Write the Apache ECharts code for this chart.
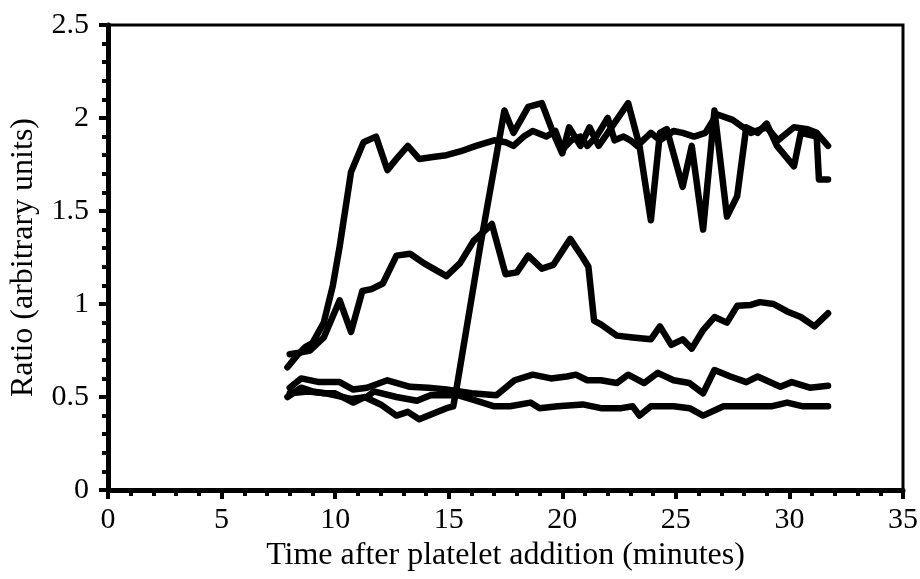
<!DOCTYPE html>
<html><head><meta charset="utf-8">
<script src="https://cdn.jsdelivr.net/npm/echarts@6/dist/echarts.min.js"></script>
<style>html,body{margin:0;padding:0;background:#fff}#c{width:920px;height:579px}</style>
</head><body><div id="c"></div>
<script>
// Series A: early riser (~1.9 plateau)
var aTime = [7.9, 8.3, 8.7, 9.0, 9.5, 9.9, 10.2, 10.7, 11.25, 11.8, 12.3, 12.7, 13.2, 13.7, 14.3, 14.9, 15.5, 16.2, 17.0, 17.5, 17.85, 18.3, 18.7, 19.3, 19.7, 20.0, 20.4, 20.8, 21.1, 21.5, 22.0, 22.3, 22.7, 23.0, 23.3, 23.9, 24.3, 24.9, 25.3, 25.8, 26.3, 26.8, 27.5, 28.3, 29.0, 29.5, 30.2, 30.8, 31.2, 31.7];
var aRatio = [0.66, 0.72, 0.77, 0.79, 0.9, 1.1, 1.31, 1.71, 1.87, 1.9, 1.72, 1.78, 1.85, 1.78, 1.79, 1.80, 1.82, 1.85, 1.88, 1.87, 1.85, 1.9, 1.93, 1.9, 1.93, 1.83, 1.88, 1.9, 1.85, 1.9, 2.0, 1.88, 1.9, 1.88, 1.85, 1.92, 1.88, 1.93, 1.92, 1.9, 1.92, 2.02, 1.99, 1.92, 1.95, 1.88, 1.95, 1.94, 1.92, 1.85];
// Series B: intermediate
var bTime = [8.0, 8.5, 8.9, 9.5, 10.2, 10.7, 11.2, 11.6, 12.1, 12.7, 13.3, 13.9, 14.9, 15.5, 16.1, 16.9, 17.5, 18.0, 18.5, 19.1, 19.6, 20.35, 20.9, 21.15, 21.4, 21.7, 22.4, 23.1, 23.9, 24.3, 24.8, 25.3, 25.7, 26.2, 26.7, 27.25, 27.7, 28.3, 28.7, 29.3, 29.9, 30.5, 31.1, 31.7];
var bRatio = [0.73, 0.74, 0.75, 0.82, 1.02, 0.85, 1.07, 1.08, 1.11, 1.26, 1.27, 1.22, 1.15, 1.22, 1.34, 1.43, 1.16, 1.17, 1.26, 1.19, 1.21, 1.35, 1.25, 1.2, 0.91, 0.89, 0.83, 0.82, 0.81, 0.88, 0.78, 0.81, 0.76, 0.86, 0.93, 0.90, 0.99, 0.995, 1.01, 1.0, 0.96, 0.93, 0.88, 0.95];
// Series C: low, ~0.6
var cTime = [8.0, 8.5, 9.3, 10.2, 10.8, 11.4, 12.3, 13.3, 14.1, 14.9, 16.0, 17.1, 17.9, 18.7, 19.5, 20.2, 20.6, 21.1, 21.7, 22.4, 22.9, 23.6, 24.2, 24.9, 25.6, 26.2, 26.7, 27.4, 28.1, 28.6, 29.6, 30.1, 30.9, 31.7];
var cRatio = [0.55, 0.6, 0.58, 0.58, 0.54, 0.55, 0.59, 0.555, 0.55, 0.54, 0.52, 0.51, 0.59, 0.62, 0.6, 0.61, 0.62, 0.59, 0.59, 0.575, 0.62, 0.575, 0.63, 0.59, 0.575, 0.52, 0.645, 0.61, 0.58, 0.61, 0.555, 0.58, 0.55, 0.56];
// Series D: lowest, ~0.45
var dTime = [8.0, 8.8, 9.6, 10.7, 11.4, 11.7, 12.7, 13.6, 14.2, 15.4, 16.2, 17.0, 17.7, 18.6, 19.0, 19.8, 20.9, 21.7, 22.6, 23.1, 23.4, 23.9, 24.9, 25.6, 26.2, 27.1, 28.0, 29.2, 29.9, 30.6, 31.7];
var dRatio = [0.52, 0.53, 0.52, 0.49, 0.50, 0.53, 0.50, 0.48, 0.51, 0.51, 0.48, 0.45, 0.45, 0.47, 0.44, 0.45, 0.46, 0.44, 0.44, 0.45, 0.40, 0.45, 0.45, 0.44, 0.40, 0.45, 0.45, 0.45, 0.47, 0.45, 0.45];
// Series E: late riser (~15 min), noisy plateau
var eTime = [7.9, 8.5, 9.0, 9.5, 10.0, 10.8, 11.3, 12.0, 12.7, 13.2, 13.7, 14.3, 14.9, 15.2, 15.35, 16.4, 17.45, 17.85, 18.5, 19.1, 19.6, 20.0, 20.3, 20.8, 21.2, 21.6, 22.0, 22.9, 23.4, 23.9, 24.3, 24.6, 25.3, 25.7, 26.2, 26.7, 27.25, 27.7, 28.1, 28.6, 29.0, 29.45, 30.2, 30.5, 31.2, 31.3, 31.7];
var eRatio = [0.5, 0.55, 0.53, 0.52, 0.52, 0.47, 0.5, 0.46, 0.40, 0.42, 0.38, 0.41, 0.44, 0.45, 0.55, 1.32, 2.04, 1.92, 2.06, 2.08, 1.92, 1.81, 1.95, 1.85, 1.95, 1.85, 1.92, 2.08, 1.85, 1.45, 1.92, 1.94, 1.63, 1.85, 1.40, 2.04, 1.47, 1.58, 1.95, 1.92, 1.97, 1.85, 1.74, 1.92, 1.9, 1.67, 1.67];

var xTicks = [0, 5, 10, 15, 20, 25, 30, 35];
var yTicks = [0, 0.5, 1, 1.5, 2, 2.5];

function pairs(t, v) { return t.map(function (x, i) { return [x, v[i]]; }); }
var seriesList = [[aTime, aRatio], [bTime, bRatio], [cTime, cRatio], [dTime, dRatio], [eTime, eRatio]];

var font = 'Liberation Serif';
var chart = echarts.init(document.getElementById('c'), null, { renderer: 'canvas' });
chart.setOption({
  animation: false,
  backgroundColor: '#fff',
  grid: { left: 108, right: 17, top: 25, bottom: 89, containLabel: false, outerBoundsMode: 'none',
    show: true, borderColor: '#000', borderWidth: 3, backgroundColor: 'transparent' },
  xAxis: {
    type: 'value', min: xTicks[0], max: xTicks[xTicks.length - 1], interval: 5,
    name: 'Time after platelet addition (minutes)', nameLocation: 'middle', nameGap: 46,
    nameTextStyle: { fontFamily: font, fontSize: 32, color: '#000' },
    axisLine: { show: true, onZero: false, lineStyle: { color: '#000', width: 5 } },
    axisTick: { show: true, inside: false, length: 9, lineStyle: { color: '#000', width: 4 } },
    minorTick: { show: true, splitNumber: 5, length: 6, lineStyle: { color: '#000', width: 4 } },
    splitLine: { show: false },
    axisLabel: { fontFamily: font, fontSize: 30, color: '#000', margin: 15 }
  },
  yAxis: {
    type: 'value', min: yTicks[0], max: yTicks[yTicks.length - 1], interval: 0.5,
    name: 'Ratio (arbitrary units)', nameLocation: 'middle', nameGap: 68,
    nameTextStyle: { fontFamily: font, fontSize: 32, color: '#000' },
    axisLine: { show: true, onZero: false, lineStyle: { color: '#000', width: 5 } },
    axisTick: { show: true, inside: false, length: 9, lineStyle: { color: '#000', width: 4 } },
    minorTick: { show: true, splitNumber: 5, length: 6, lineStyle: { color: '#000', width: 4 } },
    splitLine: { show: false },
    axisLabel: { fontFamily: font, fontSize: 30, color: '#000', margin: 19,
      formatter: function (v) { return String(v); } }
  },
  series: seriesList.map(function (s) {
    return { type: 'line', data: pairs(s[0], s[1]), symbol: 'none', smooth: false,
      lineStyle: { color: '#000', width: 6.5, join: 'round', cap: 'round' } };
  })
});
</script></body></html>
